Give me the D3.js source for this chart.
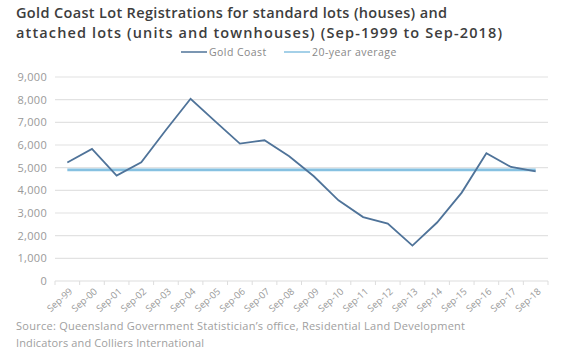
<!DOCTYPE html>
<html>
<head>
    <script src="https://d3js.org/d3.v7.min.js"></script>
    <style>
        body { margin: 0; background: #fff; }
        svg { display: block; }
        text { font-family: "Open Sans", sans-serif; }
    </style>
</head>
<body>
    <svg width="580" height="352"></svg>
    <script>
        // data
        var periods = ["Sep-99", "Sep-00", "Sep-01", "Sep-02", "Sep-03", "Sep-04", "Sep-05", "Sep-06", "Sep-07", "Sep-08",
                       "Sep-09", "Sep-10", "Sep-11", "Sep-12", "Sep-13", "Sep-14", "Sep-15", "Sep-16", "Sep-17", "Sep-18"];
        var goldCoast = [5230, 5830, 4650, 5240, 6660, 8040, 7040, 6060, 6210, 5500,
                         4620, 3560, 2820, 2530, 1560, 2580, 3900, 5640, 5030, 4840];
        var average = 4900;
        var yTicks = [0, 1000, 2000, 3000, 4000, 5000, 6000, 7000, 8000, 9000];

        var svg = d3.select("svg"),
            margin = {top: 77, right: 32, bottom: 71, left: 55},
            width = 580 - margin.left - margin.right,
            height = 352 - margin.top - margin.bottom,
            g = svg.append("g").attr("transform", "translate(" + margin.left + "," + margin.top + ")");

        var x = d3.scaleBand().domain(periods).range([0, width]),
            y = d3.scaleLinear().domain([0, 9000]).range([height, 0]);

        // gridlines
        g.append("g")
            .selectAll("line")
            .data(yTicks.slice(1))
            .enter().append("line")
            .attr("x1", 0)
            .attr("x2", width)
            .attr("y1", function(d) { return y(d); })
            .attr("y2", function(d) { return y(d); })
            .attr("stroke", "#e2e2e2")
            .attr("stroke-width", 1.2);

        // y labels
        g.append("g")
            .selectAll("text")
            .data(yTicks)
            .enter().append("text")
            .attr("x", -8)
            .attr("y", function(d) { return y(d); })
            .attr("dy", "0.35em")
            .attr("text-anchor", "end")
            .style("font-size", "11px")
            .style("letter-spacing", "0.3px")
            .style("fill", "#999")
            .text(function(d) { return d3.format(",")(d); });

        // x axis
        var xAxis = g.append("g")
            .attr("transform", "translate(0," + height + ")");
        xAxis.append("line")
            .attr("x1", 0).attr("x2", width)
            .attr("stroke", "#ddd");
        xAxis.selectAll(".tk")
            .data(d3.range(periods.length + 1))
            .enter().append("line")
            .attr("x1", function(i) { return i * x.step(); })
            .attr("x2", function(i) { return i * x.step(); })
            .attr("y1", 0).attr("y2", 4)
            .attr("stroke", "#ddd");
        xAxis.selectAll(".lbl")
            .data(periods)
            .enter().append("text")
            .attr("transform", function(d) {
                return "translate(" + (x(d) + x.bandwidth() / 2 + 2) + ",7) rotate(-42)";
            })
            .attr("text-anchor", "end")
            .attr("dy", "0.6em")
            .style("font-size", "9.5px")
            .style("fill", "#999")
            .text(function(d) { return d; });

        var cx = function(d, i) { return x(periods[i]) + x.bandwidth() / 2; };

        // 20-year average
        g.append("path")
            .datum(periods)
            .attr("fill", "none")
            .attr("stroke", "#86c1e1")
            .attr("stroke-width", 2.8)
            .attr("d", d3.line().x(cx).y(function() { return y(average); }));

        // Gold Coast
        g.append("path")
            .datum(goldCoast)
            .attr("fill", "none")
            .attr("stroke", "#4f7399")
            .attr("stroke-width", 1.8)
            .attr("d", d3.line().x(cx).y(function(d) { return y(d); }));

        // title
        var title = svg.append("text")
            .style("font-size", "14.5px")
            .style("font-weight", "600")
            .style("fill", "#3d3d3d");
        title.append("tspan").attr("x", 16).attr("y", 18)
            .attr("textLength", 431).attr("lengthAdjust", "spacing")
            .text("Gold Coast Lot Registrations for standard lots (houses) and");
        title.append("tspan").attr("x", 16).attr("y", 38)
            .attr("textLength", 486).attr("lengthAdjust", "spacing")
            .text("attached lots (units and townhouses) (Sep-1999 to Sep-2018)");

        // legend
        var legend = [
            {name: "Gold Coast", color: "#4f7399", x: 181},
            {name: "20-year average", color: "#86c1e1", x: 284}
        ];
        var lg = svg.append("g").selectAll("g")
            .data(legend)
            .enter().append("g")
            .attr("transform", function(d) { return "translate(" + d.x + ",52)"; });
        lg.append("line")
            .attr("x1", 0).attr("x2", 26)
            .attr("stroke", function(d) { return d.color; })
            .attr("stroke-width", 1.5);
        lg.append("text")
            .attr("x", 28)
            .attr("dy", "0.35em")
            .style("font-size", "10.5px")
            .style("letter-spacing", "0.45px")
            .style("fill", "#888")
            .text(function(d) { return d.name; });

        // source
        var src = svg.append("text")
            .style("font-size", "11px")
            .style("fill", "#a0a0a0");
        src.append("tspan").attr("x", 16).attr("y", 330)
            .attr("textLength", 449).attr("lengthAdjust", "spacing")
            .text("Source: Queensland Government Statistician\u2019s office, Residential Land Development");
        src.append("tspan").attr("x", 16).attr("y", 347)
            .attr("textLength", 188).attr("lengthAdjust", "spacing")
            .text("Indicators and Colliers International");
    </script>
</body>
</html>
